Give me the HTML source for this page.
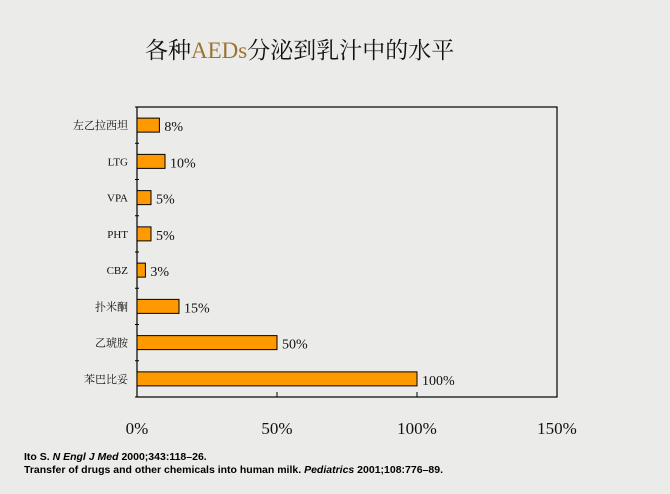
<!DOCTYPE html>
<html><head><meta charset="utf-8"><style>
body{margin:0;width:670px;height:494px;background:#ebebea;overflow:hidden;font-family:"Liberation Serif","Noto Serif CJK SC",serif}
.t{position:absolute;left:145px;top:32px;font-size:23px;color:#111;white-space:nowrap;font-family:"Liberation Serif","Noto Serif CJK SC",serif}
.fn{position:absolute;left:24px;font:bold 10.5px "Liberation Sans",sans-serif;color:#000;white-space:nowrap}
</style></head><body>
<div class="t">各种<span style="color:#9a7433">AEDs</span>分泌到乳汁中的水平</div>
<svg id="c" width="670" height="494" style="position:absolute;left:0;top:0"></svg>
<div class="fn" style="top:451px">Ito S. <i>N Engl J Med</i> 2000;343:118–26.</div>
<div class="fn" style="top:464px">Transfer of drugs and other chemicals into human milk. <i>Pediatrics</i> 2001;108:776–89.</div>
<script>
const categories=["左乙拉西坦","LTG","VPA","PHT","CBZ","扑米酮","乙琥胺","苯巴比妥"];
const values=[8,10,5,5,3,15,50,100];
const valueLabels=["8%","10%","5%","5%","3%","15%","50%","100%"];
const xTicks=[0,50,100,150];
const xTickLabels=["0%","50%","100%","150%"];
const L=137,R=557,T=107,B=397,XMAX=150;
const x=v=>L+(R-L)*v/XMAX;
const band=(B-T)/categories.length;
const y=i=>T+band*i;
const s=document.getElementById('c');const NS="http://www.w3.org/2000/svg";
function mk(t,a,txt){const e=document.createElementNS(NS,t);for(const k in a)e.setAttribute(k,a[k]);if(txt!=null)e.textContent=txt;s.appendChild(e);return e;}
let e=mk('rect',{x:L,y:T,width:R-L,height:B-T,fill:'none',stroke:'#000','stroke-width':1.2});

for(let i=0;i<=categories.length;i++){e=mk('line',{x1:L-2,x2:L+2,y1:y(i),y2:y(i),stroke:'#000'});
}
xTicks.forEach((v,i)=>{e=mk('line',{x1:x(v),x2:x(v),y1:B,y2:B-5,stroke:'#000'});

e=mk('text',{x:x(v),y:434,'text-anchor':'middle','font-size':17,fill:'#111'},xTickLabels[i]);
});
categories.forEach((c,i)=>{const cy=y(i)+band/2;
e=mk('rect',{x:L,y:cy-7,width:x(values[i])-L,height:14,fill:'#ff9900',stroke:'#000','stroke-width':1});

e=mk('text',{x:128,y:cy+4,'text-anchor':'end','font-size':11,fill:'#111','font-family':'"Liberation Serif","Noto Serif CJK SC",serif'},c);

e=mk('text',{x:x(values[i])+5,y:cy+6,'font-size':14,fill:'#111'},valueLabels[i]);
});
</script>
</body></html>
